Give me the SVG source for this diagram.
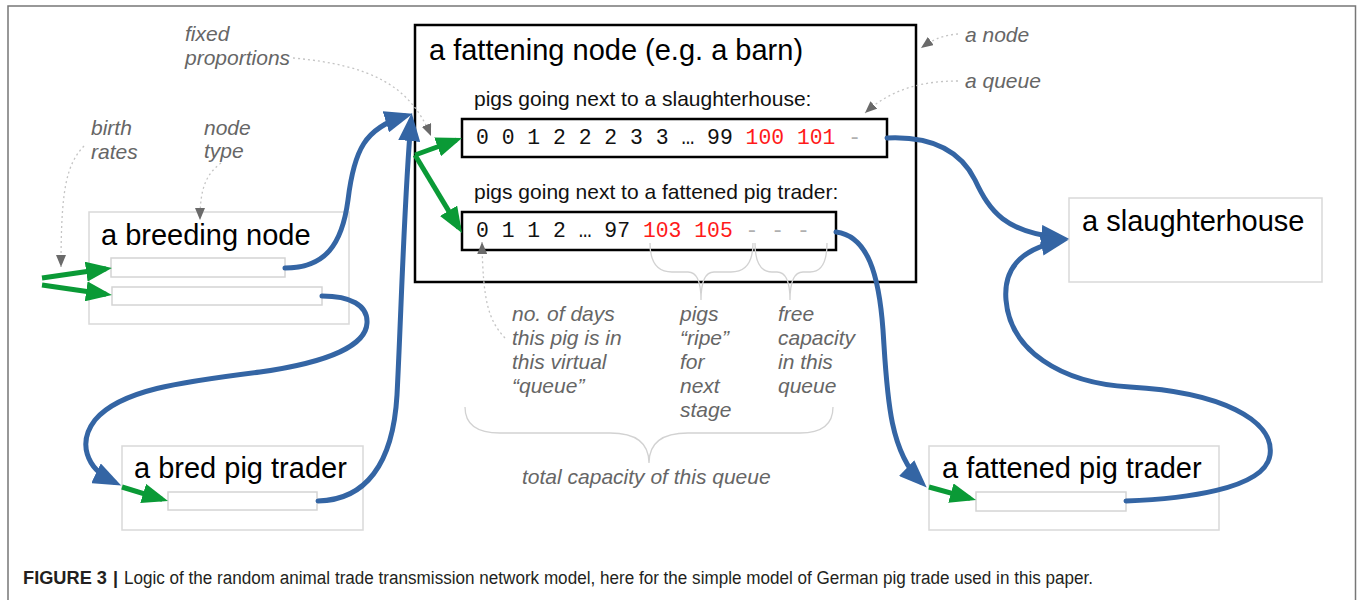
<svg xmlns="http://www.w3.org/2000/svg" width="1357" height="600" viewBox="0 0 1357 600">
  <defs>
    <style>
      .title { font-family: "Liberation Sans", Arial, sans-serif; font-size: 29px; fill: #000; }
      .lbl { font-family: "Liberation Sans", Arial, sans-serif; font-size: 21px; fill: #111; }
      .mono { font-family: "Liberation Mono", "Courier New", monospace; font-size: 21.4px; fill: #111; white-space: pre; }
      .red { fill: #ff1a1a; }
      .free { fill: #b0b0b0; }
      .note { font-family: "Liberation Sans", Arial, sans-serif; font-size: 21px; font-style: italic; fill: #666; }
      .box { fill: #fff; stroke: #d9d9d9; stroke-width: 1.5; }
      .slot { fill: #fff; stroke: #d4d4d4; stroke-width: 1.5; }
      .qbox { fill: #fff; stroke: #000; stroke-width: 2.5; }
      .blue { fill: none; stroke: #3465a4; stroke-width: 5; stroke-linecap: round; marker-end: url(#blueHead); }
      .green { fill: none; stroke: #0a9a36; stroke-width: 5; marker-end: url(#greenHead); }
      .dot { fill: none; stroke: #c4c4c4; stroke-width: 1.3; stroke-dasharray: 2 3; marker-end: url(#grayHead); }
      .brace { fill: none; stroke: #d2d2d2; stroke-width: 1.3; }
      .cap { font-family: "Liberation Sans Narrow", "Liberation Sans", Arial, sans-serif; font-size: 18px; fill: #231f20; }
    </style>
    <marker id="blueHead" viewBox="0 0 28 22" refX="20" refY="11" markerWidth="28" markerHeight="22" markerUnits="userSpaceOnUse" orient="auto">
      <path d="M0,0 L28,11 L0,22 z" fill="#3465a4"/>
    </marker>
    <marker id="greenHead" viewBox="0 0 26 20" refX="20" refY="10" markerWidth="26" markerHeight="20" markerUnits="userSpaceOnUse" orient="auto">
      <path d="M0,0 L26,10 L0,20 z" fill="#0a9a36"/>
    </marker>
    <marker id="grayHead" viewBox="0 0 12 10" refX="12" refY="5" markerWidth="12" markerHeight="10" markerUnits="userSpaceOnUse" orient="auto">
      <path d="M0,0 L12,5 L0,10 z" fill="#6a6a6a"/>
    </marker>
  </defs>

  <rect width="1357" height="600" fill="#fff"/>
  <!-- figure frame -->
  <path d="M8,600 V6 H1355.5 V600" fill="none" stroke="#777" stroke-width="1.5"/>

  <!-- fattening node with its two queues -->
  <g id="fattening-node">
    <rect x="415" y="25" width="501" height="257" fill="#fff" stroke="#000" stroke-width="2.5"/>
    <text class="title" x="429" y="60">a fattening node (e.g. a barn)</text>
    <text class="lbl" x="474" y="106">pigs going next to a slaughterhouse:</text>
    <rect class="qbox" x="462" y="119" width="425" height="38"/>
    <text class="mono" x="476" y="144">0 0 1 2 2 2 3 3 … 99 <tspan class="red">100 101</tspan> <tspan class="free">-</tspan></text>
    <text class="lbl" x="474" y="199">pigs going next to a fattened pig trader:</text>
    <rect class="qbox" x="462" y="212" width="374" height="38"/>
    <text class="mono" x="476" y="237">0 1 1 2 … 97 <tspan class="red">103 105</tspan> <tspan class="free">- - -</tspan></text>
  </g>

  <g id="breeding-node">
    <rect class="box" x="89" y="212" width="260" height="112"/>
    <text class="title" x="101" y="245">a breeding node</text>
    <rect class="slot" x="111" y="258" width="174" height="19"/>
    <rect class="slot" x="112" y="287" width="210" height="18"/>
  </g>

  <g id="bred-pig-trader">
    <rect class="box" x="122" y="446" width="241" height="84"/>
    <text class="title" x="134" y="478">a bred pig trader</text>
    <rect class="slot" x="168" y="492" width="149" height="18"/>
  </g>

  <g id="slaughterhouse">
    <rect class="box" x="1069" y="198" width="253" height="84"/>
    <text class="title" x="1082" y="231">a slaughterhouse</text>
  </g>

  <g id="fattened-pig-trader">
    <rect class="box" x="929" y="446" width="290" height="84"/>
    <text class="title" x="942" y="478">a fattened pig trader</text>
    <rect class="slot" x="976" y="492" width="150" height="19"/>
  </g>

  <!-- trade and internal flows -->
  <g id="connectors">
    <path class="blue" d="M285,268 C325,268 342,245 348,200 C354,150 365,128 405,116"/>
    <path class="blue" d="M318,501 C365,500 393,465 397,395 C401,320 404,200 411,121"/>
    <path class="blue" d="M322,296 C350,296 368,305 367,323 C366,345 330,362 260,372 C180,382 120,390 95,420 C78,442 85,468 114,482"/>
    <path class="blue" d="M887,138 C930,136 960,150 975,180 C990,212 1005,232 1061,238"/>
    <path class="blue" d="M836,232 C868,236 879,275 883,330 C887,390 888,450 921,482"/>
    <path class="blue" d="M1126,501 C1180,499 1265,490 1270,455 C1275,420 1220,392 1130,387 C1060,383 1010,350 1006,300 C1003,265 1025,248 1061,241"/>

    <path class="green" d="M42,278 L106,268.8"/>
    <path class="green" d="M42,285 L106,294.2"/>
    <path class="green" d="M415,155 L456.4,140"/>
    <path class="green" d="M415,155 L458.9,227.9"/>
    <path class="green" d="M122,487 L162.3,499.3"/>
    <path class="green" d="M929,487 L970.2,498.4"/>
  </g>

  <!-- explanatory notes -->
  <g id="annotations">
    <path class="dot" d="M84,146 C66,165 61,190 61,267"/>
    <path class="dot" d="M221,163 C205,175 200,190 200,220"/>
    <path class="dot" d="M293,58 C370,65 410,85 431,136"/>
    <path class="dot" d="M958,34 C945,35 935,38 921,48"/>
    <path class="dot" d="M958,81 C920,81 890,90 865,113"/>
    <path class="dot" d="M505,338 C488,320 483,300 482,242"/>

    <path class="brace" d="M650,243 Q650,272 672,272 L688,272 Q701,272 701,300 Q701,272 714,272 L731,272 Q753,272 753,243"/>
    <path class="brace" d="M755,243 Q755,272 772,272 L777,272 Q790,272 790,300 Q790,272 803,272 L810,272 Q827,272 827,243"/>
    <path class="brace" d="M465,407 Q465,433 500,433 L610,433 Q649,433 649,463 Q649,433 688,433 L800,433 Q833,433 833,407"/>

    <text class="note" x="185" y="41">fixed</text>
    <text class="note" x="185" y="65">proportions</text>
    <text class="note" x="91" y="135">birth</text>
    <text class="note" x="91" y="159">rates</text>
    <text class="note" x="204" y="135">node</text>
    <text class="note" x="204" y="158">type</text>
    <text class="note" x="965" y="42">a node</text>
    <text class="note" x="965" y="88">a queue</text>

    <text class="note" x="512" y="321">no. of days</text>
    <text class="note" x="512" y="345">this pig is in</text>
    <text class="note" x="512" y="369">this virtual</text>
    <text class="note" x="512" y="393">“queue”</text>

    <text class="note" x="680" y="321">pigs</text>
    <text class="note" x="680" y="345">“ripe”</text>
    <text class="note" x="680" y="369">for</text>
    <text class="note" x="680" y="393">next</text>
    <text class="note" x="680" y="417">stage</text>

    <text class="note" x="778" y="321">free</text>
    <text class="note" x="778" y="345">capacity</text>
    <text class="note" x="778" y="369">in this</text>
    <text class="note" x="778" y="393">queue</text>

    <text class="note" x="522" y="484">total capacity of this queue</text>
  </g>

  <g id="caption">
    <text class="cap" x="23" y="584" font-weight="bold" textLength="84" lengthAdjust="spacingAndGlyphs">FIGURE 3</text>
    <text class="cap" x="113" y="584" font-weight="bold">|</text>
    <text class="cap" x="124" y="584" textLength="969" lengthAdjust="spacingAndGlyphs">Logic of the random animal trade transmission network model, here for the simple model of German pig trade used in this paper.</text>
  </g>
</svg>
